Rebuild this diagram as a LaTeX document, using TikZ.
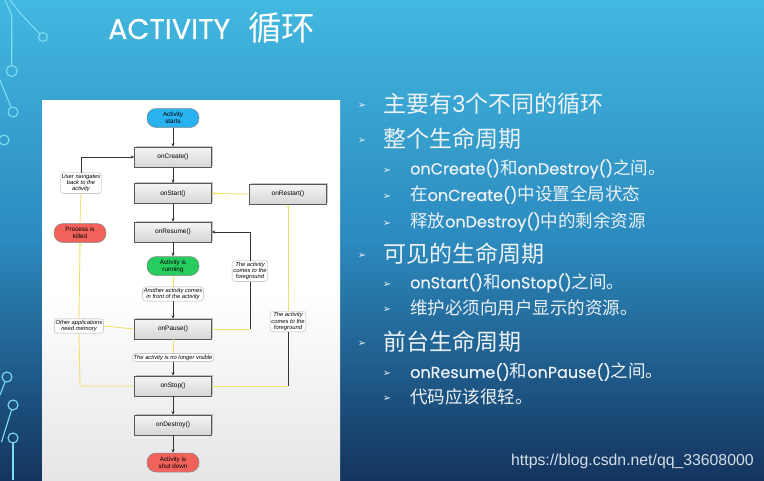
\documentclass[tikz,border=0pt]{standalone}
\usepackage{fontspec}
\setmainfont{Liberation Sans}
\newfontfamily\cjk{Noto Sans CJK SC}
\newfontfamily\gothic{Poppins}
\newfontfamily\gothicb[FakeBold=0.5]{Poppins}
\newfontfamily\dvs{DejaVu Sans}
\usetikzlibrary{shadows,arrows.meta}
\definecolor{bgtop}{RGB}{66,184,224}
\definecolor{bgmid}{RGB}{44,138,190}
\definecolor{bgbot}{RGB}{20,52,94}
\definecolor{circ}{RGB}{125,222,242}
\definecolor{dline}{RGB}{52,52,40}
\definecolor{yline}{RGB}{236,226,110}
\definecolor{bxborder}{RGB}{88,88,88}
\definecolor{pblue}{RGB}{40,178,240}
\definecolor{pgreen}{RGB}{40,205,95}
\definecolor{pred}{RGB}{240,98,90}
\definecolor{txtw}{RGB}{236,242,246}
\tikzset{
  proc/.style={draw=bxborder, line width=0.6pt, top color=white!96!black, bottom color=white!84!black,
    minimum width=77pt, minimum height=20pt, inner sep=1pt,
    font=\fontsize{6.5}{7}\selectfont,
    drop shadow={shadow xshift=1.3pt, shadow yshift=1.3pt, fill=black!50, opacity=0.45}},
  pill/.style={draw=bxborder!70, line width=0.5pt, rounded corners=9pt, minimum width=52pt, minimum height=19pt,
    align=center, inner sep=1pt, font=\fontsize{6.3}{6.9}\selectfont},
  note/.style={draw=gray!60, fill=white, rounded corners=3pt, align=center, inner sep=1.2pt,
    font=\itshape\fontsize{5.8}{6.4}\selectfont},
  dl/.style={draw=dline, line width=0.7pt},
  yl/.style={draw=yline, line width=0.9pt},
  arr/.style={-{Stealth[length=3.5pt,width=3pt]}},
  lone/.style={anchor=west, text=txtw, inner sep=0pt},
  bul/.style={anchor=center, text=txtw, inner sep=0pt, font=\dvs\fontsize{10}{10}\selectfont},
  deco/.style={draw=circ, line width=1.1pt}
}
\begin{document}
\begin{tikzpicture}[x=1pt,y=-1pt]
\useasboundingbox (0,0) rectangle (764,480);
% background
\shade[top color=bgtop, bottom color=bgbot, middle color=bgmid] (0,0) rectangle (764,480);
% circuit decoration
\draw[deco] (5,0) -- (11.7,15) -- (11.7,66);
\draw[deco] (11.7,71) circle (5.5);
\draw[deco] (10,0) -- (20,13) -- (39.5,33.5);
\draw[deco] (43,37) circle (4.5);
\draw[deco] (0,80) -- (11,107);
\draw[deco] (13,112) circle (5);
\draw[deco] (4,140) circle (5);
\draw[deco] (7,377) circle (5);
\draw[deco] (5,382) -- (0,395);
\draw[deco] (13,405) circle (5);
\draw[deco] (11.5,410) -- (1.5,442);
\draw[deco] (13,438) circle (5);
\draw[deco] (13,443) -- (13,480);
% title
\node[anchor=west, text=white, inner sep=0pt, font=\gothicb\fontsize{28.5}{30}\selectfont] (title) at (108,29) {ACTIVITY};
\node[anchor=west, text=white, inner sep=0pt, font=\cjk\fontsize{33.5}{35}\selectfont] (titlecjk) at (248,28) {循环};
% panel
\shade[top color=white, bottom color=white!90!black, middle color=white] (42,100) rectangle (340,480);
% nodes
\node[pill, fill=pblue] (starts) at (173,118) {Activity\\starts};
\node[proc] (create) at (173,157) {onCreate()};
\node[proc] (start) at (173,193.5) {onStart()};
\node[proc] (restart) at (288,194) {onRestart()};
\node[proc] (resume) at (173,232) {onResume()};
\node[pill, fill=pgreen] (running) at (173,266) {Activity is\\running};
\node[proc] (pause) at (173,329) {onPause()};
\node[proc] (stop) at (173,386) {onStop()};
\node[proc] (destroy) at (173,425) {onDestroy()};
\node[pill, fill=pred] (shut) at (173,462.5) {Activity is\\shut down};
\node[pill, fill=pred] (killed) at (80,233) {Process is\\killed};
\node[note] (user) at (81,183) {User navigates\\back to the\\activity};
\node[note] (another) at (173,294) {Another activity comes\\in front of the activity};
\node[note] (fg1) at (250,271) {The activity\\comes to the\\foreground};
\node[note] (fg2) at (288,321.5) {The activity\\comes to the\\foreground};
\node[note] (others) at (79,326) {Other applications\\need memory};
\node[note] (nolonger) at (173,357.5) {The activity is no longer visible};
% coordinates
\coordinate (c1) at (81,157);
\coordinate (c2) at (250,329);
\coordinate (c3) at (250,232);
\coordinate (c4) at (288,386);
\coordinate (c5) at (80,386);
% main chain
\draw[dl,arr] (starts) -- (create);
\draw[dl,arr] (create) -- (start);
\draw[dl,arr] (start) -- (resume);
\draw[dl,arr] (resume) -- (running);
\draw[yl] (running) -- (another);
\draw[dl,arr] (another) -- (pause);
\draw[yl] (pause) -- (nolonger);
\draw[dl,arr] (nolonger) -- (stop);
\draw[dl,arr] (stop) -- (destroy);
\draw[dl,arr] (destroy) -- (shut);
% loops
\draw[yl,arr] (restart.west) -- (start.east);
\draw[yl] (pause.east) -- (c2);
\draw[dl] (c2) -- (fg1.south);
\draw[dl,arr] (fg1.north) -- (c3) -- (resume.east);
\draw[yl] (stop.east) -- (c4);
\draw[dl] (c4) -- (fg2.south);
\draw[yl,arr] (fg2.north) -- (restart.south);
\draw[yl] (pause.west) -- (others.east);
\draw[yl] (stop.west) -- (c5) -- (others.south);
\draw[yl,arr] (others.north) -- (killed.south);
\draw[yl] (killed.north) -- (user.south);
\draw[dl,arr] (user.north) -- (c1) -- (create.west);
% right text
\node[bul] (b1) at (362,106) {➢};
\node[lone, font=\fontsize{23}{24}\selectfont] (t1) at (383,104) {{\cjk 主要有}{\gothic 3}{\cjk 个不同的循环}};
\node[bul] (b2) at (362,141) {➢};
\node[lone, font=\cjk\fontsize{23}{24}\selectfont] (t2) at (383,139) {整个生命周期};
\node[bul] (b3) at (387,171) {➢};
\node[lone, font=\fontsize{17.5}{18}\selectfont] (t3) at (410,169) {{\gothicb\fontsize{16}{18}\selectfont onCreate()}{\cjk 和}{\gothicb\fontsize{16}{18}\selectfont onDestroy()}{\cjk 之间。}};
\node[bul] (b4) at (387,197) {➢};
\node[lone, font=\fontsize{17.5}{18}\selectfont] (t4) at (410,195) {{\cjk 在}{\gothicb\fontsize{16}{18}\selectfont onCreate()}{\cjk 中设置全局状态}};
\node[bul] (b5) at (387,224) {➢};
\node[lone, font=\fontsize{17.5}{18}\selectfont] (t5) at (410,222) {{\cjk 释放}{\gothicb\fontsize{16}{18}\selectfont onDestroy()}{\cjk 中的剩余资源}};
\node[bul] (b6) at (362,256) {➢};
\node[lone, font=\cjk\fontsize{23}{24}\selectfont] (t6) at (383,254) {可见的生命周期};
\node[bul] (b7) at (387,285) {➢};
\node[lone, font=\fontsize{17.5}{18}\selectfont] (t7) at (410,283) {{\gothicb\fontsize{16}{18}\selectfont onStart()}{\cjk 和}{\gothicb\fontsize{16}{18}\selectfont onStop()}{\cjk 之间。}};
\node[bul] (b8) at (387,310) {➢};
\node[lone, font=\cjk\fontsize{17.5}{18}\selectfont] (t8) at (410,308) {维护必须向用户显示的资源。};
\node[bul] (b9) at (362,344) {➢};
\node[lone, font=\cjk\fontsize{23}{24}\selectfont] (t9) at (383,342) {前台生命周期};
\node[bul] (b10) at (387,374) {➢};
\node[lone, font=\fontsize{17.5}{18}\selectfont] (t10) at (410,372) {{\gothicb\fontsize{16}{18}\selectfont onResume()}{\cjk 和}{\gothicb\fontsize{16}{18}\selectfont onPause()}{\cjk 之间。}};
\node[bul] (b11) at (387,399) {➢};
\node[lone, font=\cjk\fontsize{17.5}{18}\selectfont] (t11) at (410,397) {代码应该很轻。};
% watermark
\node[anchor=west, inner sep=0pt, text={rgb,255:red,212;green,222;blue,232}, font=\fontsize{15.8}{16}\selectfont] (wm) at (511,461) {https://blog.csdn.net/qq\_33608000};
\end{tikzpicture}
\end{document}
